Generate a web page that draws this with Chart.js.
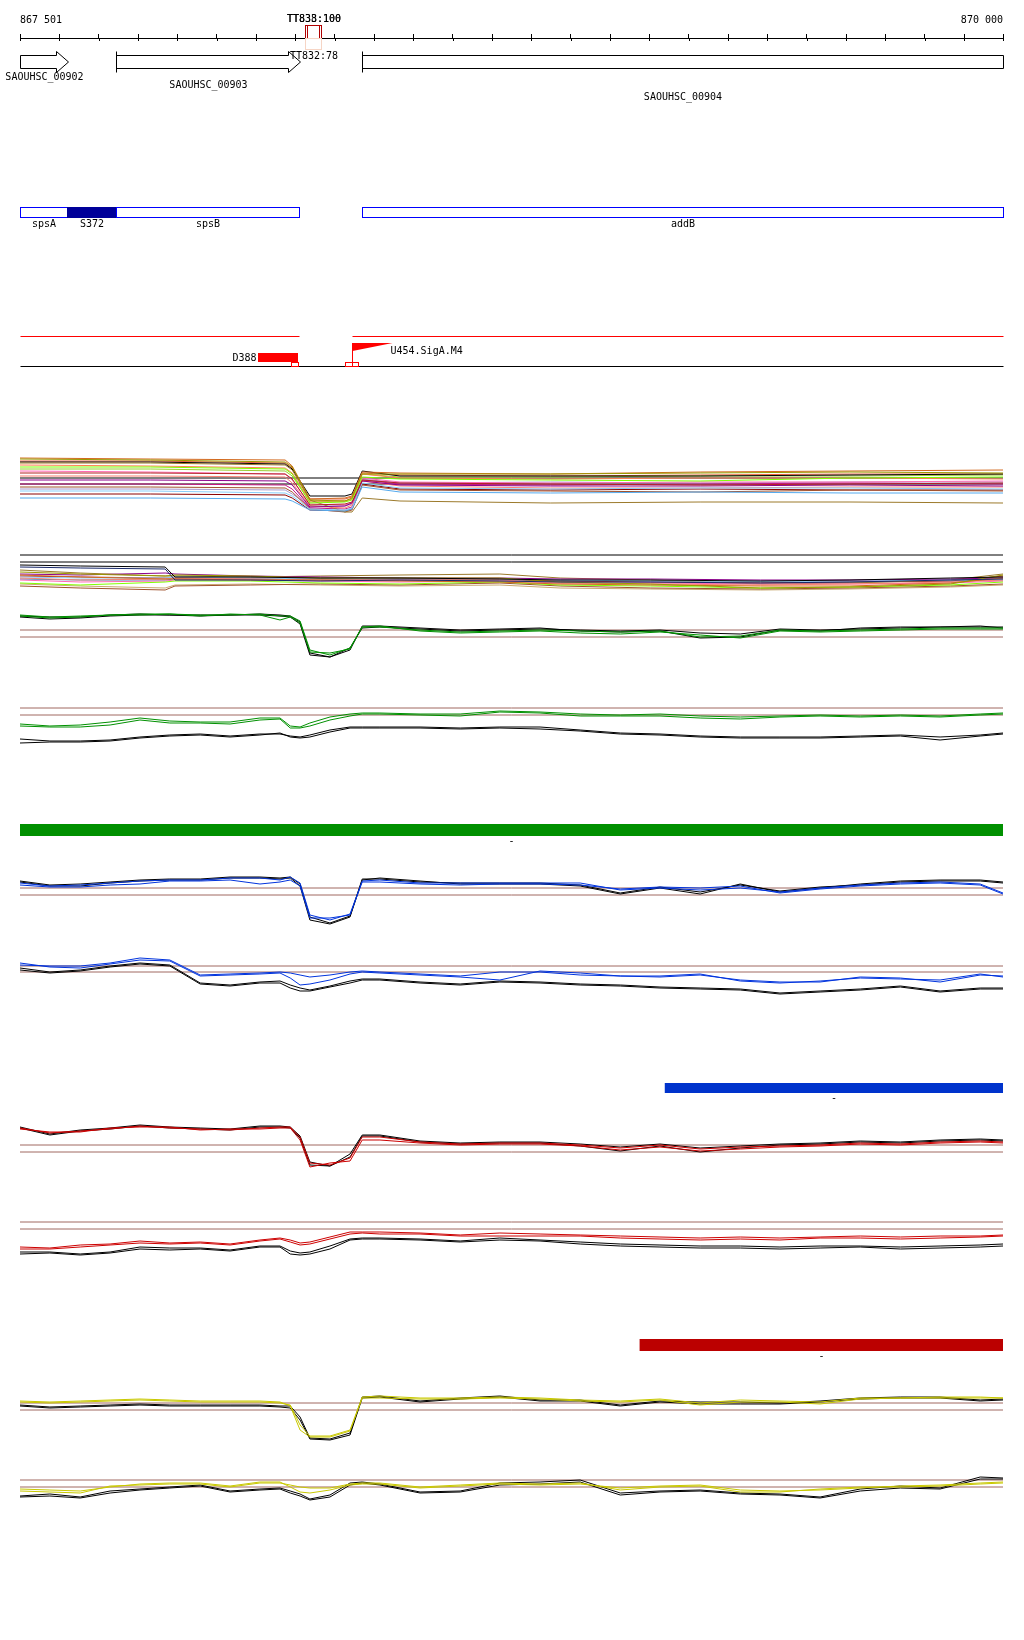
<!DOCTYPE html>
<html lang="en">
<head>
<meta charset="UTF-8">
<title>Expression browser</title>
<script src="https://cdn.jsdelivr.net/npm/chart.js"></script>
<style>
  body { margin: 0; background: #fff; }
  #page { position: relative; width: 1024px; height: 1640px; }
  #page canvas { position: absolute; left: 0; }
</style>
</head>
<body>
<div id="page"></div>
<script>
// genomic window
const xMin = 867501, xMax = 870000, tickStep = 100;

// annotation
const genes = ['SAOUHSC_00902', 'SAOUHSC_00903', 'SAOUHSC_00904'];
const geneStart = [867050, 867745, 868371];
const geneEnd = [867623, 868213, 871600];

const terms = ['TT833:100', 'TT838:100', 'TT832:78'];
const termStart = [868226, 868231, 868226];
const termEnd = [868266, 868261, 868266];
const termStrand = ['+', '+', '-'];

const units = ['spsA', 'S372', 'spsB', 'addB'];
const unitStart = [867440, 867621, 867745, 868371];
const unitEnd = [867621, 867745, 868210, 870600];
const unitShaded = [false, true, false, false];

const strandSegStart = [867440, 868345];
const strandSegEnd = [868210, 870600];

const sites = ['D388'];
const siteStart = [868106];
const siteEnd = [868208];

const tss = ['U454.SigA.M4'];
const tssPos = [868345];

const regionLabels = ['-', '-', '-'];
const regionStart = [867501, 869141, 869077];
const regionEnd = [870000, 870000, 870000];

// probe positions
const posFine = [867501, 867577, 867654, 867730, 867806, 867882, 867959, 868035, 868111, 868162, 868188,
  868213, 868238, 868289, 868340, 868371, 868416, 868518, 868620, 868721, 868823, 868925, 869027, 869128,
  869230, 869332, 869433, 869535, 869637, 869739, 869840, 869942, 870000];
const posAll = [867501, 867832, 868175, 868193, 868238, 868327, 868345, 868371, 868467, 868849, 869230, 869611, 870000];
const posRef = [867501, 867654, 867870, 867895, 868086, 868264, 868467, 868721, 868874, 869103, 869383, 869611, 869866, 870000];

// all conditions, upper overlay
const allColors = ['#9a9a00', '#7fff00', '#d2691e', '#b22222', '#8b008b', '#ff69b4', '#87cefa', '#55aaee', '#fa8072',
  '#9c7a2b', '#c71585', '#a0522d', '#a89ad0', '#000000', '#ff7f50', '#9acd32', '#8b0000', '#e8603c'];
const allProfiles = [
  [6.6, 6.5, 6.3, 5.8, 2.5, 2.4, 2.7, 5.1, 5.1, 5.1, 5.2, 5.3, 5.2],
  [5.8, 5.8, 5.6, 5.1, 2.2, 2.3, 2.5, 4.8, 4.6, 4.5, 4.4, 4.7, 4.8],
  [6.7, 6.6, 6.5, 5.9, 2.6, 2.7, 2.9, 5.3, 5.2, 5.1, 5.3, 5.4, 5.5],
  [5.2, 5.2, 5.1, 4.6, 2.0, 2.1, 2.3, 4.5, 4.2, 4.1, 4.0, 4.1, 4.2],
  [4.5, 4.5, 4.4, 4.0, 1.8, 1.9, 2.2, 4.4, 4.0, 3.9, 3.9, 4.0, 3.9],
  [5.4, 5.3, 5.1, 4.5, 2.1, 2.0, 2.2, 4.7, 4.3, 4.2, 4.3, 4.3, 4.4],
  [3.4, 3.4, 3.2, 2.9, 1.6, 1.5, 1.7, 4.2, 3.7, 3.6, 3.7, 3.7, 3.6],
  [2.7, 2.7, 2.6, 2.4, 1.5, 1.4, 1.6, 3.8, 3.3, 3.2, 3.3, 3.2, 3.2],
  [4.9, 4.9, 4.8, 4.2, 1.9, 1.7, 2.0, 4.4, 3.9, 3.7, 3.7, 3.8, 3.8],
  [6.2, 6.2, 6.0, 5.5, 2.5, 1.3, 1.3, 2.7, 2.4, 2.2, 2.3, 2.3, 2.2],
  [4.1, 4.1, 4.0, 3.6, 1.7, 1.6, 1.8, 4.5, 4.1, 4.0, 4.1, 4.2, 4.1],
  [3.8, 3.8, 3.7, 3.3, 1.6, 1.3, 1.5, 4.0, 3.5, 3.4, 3.3, 3.5, 3.4],
  [3.6, 3.6, 3.5, 3.1, 1.9, 1.9, 2.1, 4.6, 4.2, 4.3, 4.2, 4.3, 4.3],
  [6.3, 6.3, 6.1, 5.6, 2.9, 2.9, 3.1, 5.4, 4.9, 4.9, 4.9, 5.0, 5.1],
  [6.0, 5.9, 5.7, 5.2, 2.4, 2.4, 2.6, 5.1, 4.7, 4.6, 4.7, 4.7, 4.6],
  [5.6, 5.6, 5.4, 4.9, 2.3, 2.4, 2.6, 5.1, 4.8, 4.8, 4.9, 4.9, 5.0],
  [3.1, 3.1, 3.0, 2.7, 1.5, 1.4, 1.6, 4.1, 3.6, 3.5, 3.6, 3.5, 3.5],
  [6.4, 6.4, 6.2, 5.7, 2.6, 2.6, 2.8, 5.2, 5.0, 4.9, 5.0, 5.1, 5.1]
];
const allCut = [4.7, 4.1];

// all conditions, reverse strand overlay
const refColors = ['#000000', '#1a2a6c', '#9a9a00', '#d2691e', '#8b008b', '#7fff00', '#fa8072',
  '#a0522d', '#87cefa', '#ff69b4', '#9c7a2b', '#c8a870', '#b22222', '#4682b4'];
const refProfiles = [
  [5.5, 5.4, 5.3, 4.3, 4.3, 4.2, 4.2, 4.1, 4.0, 4.0, 3.9, 4.0, 4.2, 4.3],
  [5.3, 5.2, 5.1, 4.0, 4.0, 3.9, 4.0, 3.9, 3.8, 3.8, 3.7, 3.8, 4.0, 4.1],
  [4.8, 4.6, 4.4, 4.5, 4.4, 4.2, 4.2, 4.2, 3.8, 3.6, 3.2, 3.3, 3.6, 4.5],
  [4.5, 4.3, 4.1, 4.1, 4.0, 4.0, 3.9, 3.8, 3.6, 3.5, 3.4, 3.4, 3.7, 4.2],
  [4.6, 4.5, 4.7, 4.6, 4.4, 4.3, 4.2, 4.2, 4.1, 4.1, 4.0, 4.0, 4.1, 4.2],
  [3.7, 3.5, 3.8, 3.9, 3.9, 3.7, 3.6, 3.8, 3.5, 3.4, 3.2, 3.3, 3.5, 3.8],
  [4.2, 4.0, 4.1, 4.2, 4.1, 4.0, 4.0, 4.0, 3.7, 3.6, 3.5, 3.6, 3.8, 4.0],
  [3.4, 3.2, 3.0, 3.4, 3.5, 3.6, 3.5, 3.7, 3.4, 3.2, 3.1, 3.2, 3.4, 3.6],
  [4.3, 4.2, 4.2, 4.3, 4.2, 4.1, 4.1, 4.1, 4.0, 3.9, 3.9, 3.9, 4.0, 4.1],
  [4.0, 3.8, 3.9, 4.0, 4.0, 3.9, 3.8, 3.9, 3.7, 3.7, 3.6, 3.6, 3.7, 3.9],
  [5.0, 4.7, 4.4, 4.4, 4.3, 4.4, 4.5, 4.6, 4.2, 4.0, 3.6, 3.7, 4.0, 4.6],
  [3.6, 3.4, 3.2, 3.5, 3.6, 3.5, 3.4, 3.5, 3.2, 3.1, 3.0, 3.1, 3.3, 3.5],
  [4.4, 4.3, 4.2, 4.2, 4.2, 4.1, 4.0, 4.1, 3.9, 3.8, 3.7, 3.8, 3.9, 4.4],
  [4.1, 4.0, 4.0, 4.1, 4.1, 4.0, 4.0, 4.0, 3.9, 3.8, 3.8, 3.8, 3.9, 4.0]
];
const refCut = [6.5, 5.8];

// condition 1 (green)
const g1a = [6.5, 6.3, 6.4, 6.5, 6.6, 6.6, 6.5, 6.5, 6.6, 6.4, 6.4, 5.9, 3.0, 2.5, 3.2, 5.3, 5.3, 5.0, 4.8, 4.9, 5.0, 4.9, 4.8, 4.9, 4.3, 4.4, 5.0, 4.9, 5.0, 5.1, 5.2, 5.2, 5.2];
const g1b = [6.4, 6.2, 6.3, 6.5, 6.5, 6.6, 6.4, 6.6, 6.5, 6.0, 6.3, 5.7, 2.8, 2.7, 3.1, 5.3, 5.4, 4.9, 4.7, 4.8, 4.9, 4.7, 4.6, 4.8, 4.5, 4.2, 4.9, 4.8, 4.9, 5.0, 5.1, 5.1, 5.1];
const g1c = [6.4, 6.3, 6.3, 6.5, 6.6, 6.5, 6.5, 6.5, 6.6, 6.5, 6.4, 5.8, 2.7, 2.3, 3.2, 5.2, 5.3, 5.1, 4.9, 5.0, 5.1, 5.0, 4.9, 5.0, 4.7, 4.6, 5.1, 5.0, 5.1, 5.2, 5.3, 5.3, 5.3];
const g1d = [6.3, 6.1, 6.2, 6.4, 6.5, 6.5, 6.4, 6.5, 6.5, 6.4, 6.3, 5.6, 2.5, 2.3, 3.0, 5.4, 5.4, 5.2, 5.0, 5.1, 5.2, 4.9, 4.8, 4.9, 4.2, 4.3, 5.0, 4.9, 5.2, 5.3, 5.3, 5.4, 5.2];
const g1Cut = [5.0, 4.3];
const g2a = [4.6, 4.4, 4.5, 4.8, 5.2, 4.9, 4.8, 4.8, 5.2, 5.2, 4.4, 4.3, 4.7, 5.3, 5.6, 5.7, 5.7, 5.6, 5.6, 5.9, 5.8, 5.6, 5.5, 5.6, 5.4, 5.3, 5.4, 5.5, 5.4, 5.5, 5.4, 5.6, 5.7];
const g2b = [4.4, 4.3, 4.3, 4.5, 5.0, 4.7, 4.7, 4.6, 5.0, 5.1, 4.2, 4.2, 4.4, 5.0, 5.4, 5.6, 5.6, 5.5, 5.4, 5.8, 5.7, 5.4, 5.4, 5.4, 5.2, 5.1, 5.3, 5.4, 5.3, 5.4, 5.3, 5.5, 5.6];
const g2c = [3.1, 2.9, 2.9, 3.0, 3.3, 3.5, 3.6, 3.4, 3.6, 3.6, 3.4, 3.3, 3.5, 4.0, 4.3, 4.3, 4.3, 4.3, 4.2, 4.3, 4.3, 4.0, 3.7, 3.6, 3.4, 3.3, 3.3, 3.3, 3.4, 3.5, 3.3, 3.5, 3.7];
const g2d = [2.7, 2.8, 2.8, 2.9, 3.2, 3.4, 3.5, 3.3, 3.5, 3.7, 3.3, 3.2, 3.3, 3.8, 4.2, 4.2, 4.2, 4.2, 4.1, 4.2, 4.1, 3.9, 3.6, 3.5, 3.3, 3.2, 3.2, 3.2, 3.3, 3.4, 3.0, 3.4, 3.6];
const g2Cut = [6.2, 5.5];

// condition 2 (blue)
const b1a = [5.7, 5.4, 5.5, 5.7, 5.9, 6.0, 6.0, 6.2, 6.2, 6.0, 6.3, 5.7, 2.5, 2.0, 2.6, 5.9, 6.0, 5.7, 5.7, 5.7, 5.7, 5.7, 5.0, 5.2, 5.0, 5.2, 4.8, 5.2, 5.5, 5.7, 5.8, 5.6, 4.7];
const b1b = [5.5, 5.3, 5.3, 5.5, 5.6, 5.9, 5.9, 6.0, 5.6, 5.8, 6.0, 5.4, 2.2, 2.2, 2.5, 5.8, 5.8, 5.6, 5.5, 5.6, 5.6, 5.5, 5.1, 5.3, 5.2, 5.4, 4.7, 5.1, 5.4, 5.6, 5.7, 5.5, 4.6];
const b1c = [5.9, 5.5, 5.6, 5.8, 6.0, 6.1, 6.1, 6.3, 6.3, 6.2, 6.3, 5.6, 2.3, 1.7, 2.4, 6.1, 6.1, 5.8, 5.7, 5.7, 5.7, 5.5, 4.7, 5.3, 4.8, 5.5, 4.9, 5.3, 5.5, 5.8, 5.9, 5.9, 5.7];
const b1d = [5.8, 5.4, 5.4, 5.7, 5.9, 6.0, 6.0, 6.2, 6.2, 6.1, 6.2, 5.4, 2.0, 1.6, 2.3, 6.0, 6.2, 5.9, 5.6, 5.6, 5.6, 5.4, 4.6, 5.2, 4.6, 5.6, 4.8, 5.2, 5.6, 5.9, 6.0, 6.0, 5.8];
const b1Cut = [5.2, 4.5];
const b2a = [6.0, 5.9, 5.9, 6.2, 6.7, 6.5, 5.0, 5.1, 5.2, 5.3, 5.2, 5.0, 4.8, 5.0, 5.3, 5.4, 5.3, 5.1, 4.9, 5.3, 5.3, 5.0, 4.9, 4.9, 5.1, 4.4, 4.2, 4.4, 4.7, 4.6, 4.5, 5.1, 4.8];
const b2b = [6.2, 5.8, 5.7, 6.1, 6.5, 6.4, 4.9, 5.0, 5.1, 5.2, 4.7, 4.0, 4.1, 4.5, 5.1, 5.3, 5.2, 5.0, 4.8, 4.5, 5.4, 5.2, 4.9, 4.8, 5.0, 4.5, 4.3, 4.3, 4.8, 4.7, 4.3, 5.0, 4.9];
const b2c = [5.7, 5.3, 5.5, 5.9, 6.2, 6.0, 4.2, 4.0, 4.3, 4.4, 4.0, 3.7, 3.5, 3.9, 4.4, 4.6, 4.6, 4.3, 4.1, 4.4, 4.3, 4.1, 4.0, 3.8, 3.7, 3.6, 3.2, 3.4, 3.6, 3.9, 3.4, 3.7, 3.7];
const b2d = [5.5, 5.2, 5.4, 5.8, 6.1, 5.9, 4.1, 3.9, 4.2, 4.2, 3.7, 3.4, 3.4, 3.8, 4.2, 4.5, 4.5, 4.2, 4.0, 4.3, 4.2, 4.0, 3.9, 3.7, 3.6, 3.5, 3.1, 3.3, 3.5, 3.8, 3.3, 3.6, 3.6];
const b2Cut = [5.9, 5.3];

// condition 3 (red)
const r1a = [6.2, 5.7, 5.9, 6.1, 6.4, 6.2, 6.1, 6.0, 6.2, 6.3, 6.3, 5.3, 2.7, 2.5, 3.2, 5.3, 5.3, 4.8, 4.6, 4.7, 4.7, 4.5, 4.2, 4.5, 4.1, 4.3, 4.4, 4.5, 4.7, 4.6, 4.8, 4.9, 4.8];
const r1b = [6.1, 5.8, 5.8, 6.2, 6.3, 6.3, 6.0, 6.1, 6.1, 6.2, 6.2, 5.0, 2.3, 2.7, 2.9, 5.0, 5.0, 4.7, 4.5, 4.6, 4.6, 4.4, 4.0, 4.3, 3.9, 4.1, 4.3, 4.4, 4.6, 4.5, 4.7, 4.8, 4.7];
const r1c = [6.3, 5.6, 6.0, 6.2, 6.5, 6.3, 6.2, 6.1, 6.4, 6.4, 6.3, 5.4, 2.8, 2.4, 3.6, 5.5, 5.5, 4.9, 4.7, 4.8, 4.8, 4.6, 4.3, 4.6, 4.2, 4.4, 4.6, 4.7, 4.9, 4.8, 5.0, 5.1, 5.0];
const r1d = [6.2, 5.5, 5.9, 6.1, 6.4, 6.2, 6.1, 6.0, 6.3, 6.3, 6.2, 5.2, 2.5, 2.4, 3.3, 5.4, 5.4, 4.8, 4.6, 4.7, 4.7, 4.4, 3.9, 4.4, 3.8, 4.2, 4.5, 4.6, 4.8, 4.7, 4.9, 5.0, 4.9];
const r1Cut = [4.5, 3.8];
const r2a = [3.8, 3.7, 4.0, 4.1, 4.4, 4.2, 4.3, 4.1, 4.5, 4.7, 4.5, 4.2, 4.3, 4.8, 5.3, 5.3, 5.3, 5.2, 5.0, 5.2, 5.1, 5.0, 4.9, 4.8, 4.7, 4.8, 4.7, 4.8, 4.9, 4.8, 4.9, 4.9, 5.0];
const r2b = [3.6, 3.6, 3.8, 4.0, 4.2, 4.1, 4.2, 4.0, 4.4, 4.6, 4.3, 4.0, 4.1, 4.6, 5.1, 5.2, 5.1, 5.1, 4.9, 4.9, 4.9, 4.9, 4.7, 4.6, 4.5, 4.6, 4.5, 4.7, 4.7, 4.6, 4.7, 4.8, 4.9];
const r2c = [3.3, 3.3, 3.1, 3.3, 3.8, 3.7, 3.7, 3.5, 3.9, 3.9, 3.4, 3.2, 3.3, 3.9, 4.6, 4.7, 4.7, 4.6, 4.4, 4.7, 4.5, 4.3, 4.1, 4.0, 3.9, 3.9, 3.8, 3.9, 3.9, 3.8, 3.9, 4.0, 4.1];
const r2d = [3.1, 3.2, 3.0, 3.2, 3.6, 3.5, 3.6, 3.4, 3.8, 3.8, 3.1, 3.0, 3.1, 3.6, 4.5, 4.6, 4.6, 4.5, 4.3, 4.5, 4.4, 4.1, 3.9, 3.8, 3.7, 3.7, 3.6, 3.7, 3.8, 3.6, 3.7, 3.8, 3.9];
const r2Cut = [6.3, 5.6];

// condition 4 (yellow)
const y1a = [5.8, 5.7, 5.8, 5.9, 6.0, 5.9, 5.8, 5.8, 5.8, 5.7, 5.5, 3.5, 2.4, 2.4, 3.0, 6.3, 6.4, 6.2, 6.2, 6.3, 6.2, 6.0, 5.9, 6.1, 5.7, 6.0, 5.9, 5.8, 6.2, 6.2, 6.2, 6.2, 6.2];
const y1b = [5.9, 5.8, 5.9, 6.0, 6.1, 6.0, 5.9, 5.9, 5.9, 5.8, 5.4, 3.0, 2.3, 2.3, 2.9, 6.2, 6.2, 6.1, 6.1, 6.2, 6.1, 5.9, 5.8, 6.0, 5.5, 5.8, 5.8, 5.6, 6.1, 6.2, 6.3, 6.3, 6.2];
const y1c = [5.5, 5.3, 5.4, 5.5, 5.6, 5.5, 5.5, 5.5, 5.5, 5.4, 5.4, 4.3, 2.2, 2.1, 2.7, 6.3, 6.4, 5.9, 6.2, 6.4, 6.0, 6.0, 5.5, 5.9, 5.8, 5.8, 5.7, 5.9, 6.2, 6.3, 6.3, 6.0, 6.1];
const y1d = [5.4, 5.2, 5.3, 5.4, 5.5, 5.4, 5.4, 5.4, 5.4, 5.3, 5.2, 4.0, 2.1, 2.0, 2.5, 6.2, 6.3, 5.8, 6.1, 6.3, 5.9, 5.9, 5.4, 5.8, 5.6, 5.6, 5.6, 5.8, 6.1, 6.2, 6.2, 5.9, 6.0];
const y1Cut = [5.7, 5.0];
const y2a = [5.4, 5.3, 5.2, 5.9, 6.0, 6.1, 6.1, 5.8, 6.2, 6.2, 6.0, 5.8, 5.7, 5.7, 6.1, 6.2, 6.2, 5.8, 6.0, 6.2, 6.1, 6.2, 5.5, 5.8, 5.9, 5.3, 5.3, 5.6, 5.8, 5.8, 5.9, 6.1, 6.2];
const y2b = [5.6, 5.5, 5.4, 5.8, 6.1, 6.2, 6.2, 5.9, 6.3, 6.3, 5.8, 5.3, 5.2, 5.5, 6.0, 6.1, 6.1, 5.7, 5.9, 6.1, 6.0, 6.1, 5.7, 5.9, 6.0, 5.5, 5.4, 5.5, 5.7, 5.9, 6.0, 6.2, 6.3];
const y2c = [4.9, 5.1, 4.8, 5.4, 5.6, 5.8, 6.0, 5.4, 5.6, 5.7, 5.4, 5.1, 4.6, 5.0, 6.2, 6.3, 6.1, 5.3, 5.4, 6.2, 6.3, 6.5, 5.2, 5.4, 5.5, 5.2, 5.1, 4.8, 5.6, 5.9, 5.7, 6.8, 6.7];
const y2d = [4.8, 4.9, 4.7, 5.2, 5.5, 5.7, 5.9, 5.3, 5.5, 5.6, 5.2, 4.9, 4.5, 4.8, 6.0, 6.2, 6.0, 5.2, 5.3, 6.0, 6.1, 6.3, 5.0, 5.3, 5.4, 5.1, 5.0, 4.7, 5.4, 5.7, 5.6, 6.6, 6.6];
const y2Cut = [6.5, 5.8];

const GREEN = '#009000', BLUE = '#0033dd', RED = '#cc0000', YELLOW = '#c8c800', BLACK = '#000000', CUT = '#a06860';
const MONO = '"DejaVu Sans Mono", monospace';

Chart.defaults.font.family = MONO;
Chart.defaults.color = '#000';

const page = document.getElementById('page');
function addCanvas(top, height) {
    const c = document.createElement('canvas');
    c.width = 1024; c.height = height;
    c.style.top = top + 'px';
    c.style.width = '1024px'; c.style.height = height + 'px';
    page.appendChild(c);
    return c;
}

function trackOptions() {
    return {
        responsive: false, animation: false, devicePixelRatio: 1, events: [],
        layout: { padding: { left: 20, right: 21, top: 0, bottom: 0 } },
        plugins: { legend: { display: false }, tooltip: { enabled: false } },
        elements: { point: { radius: 0 }, line: { borderWidth: 1, tension: 0 } },
        scales: {
            x: { type: 'linear', min: xMin, max: xMax, display: false },
            y: { min: 0, max: 8, display: false }
        }
    };
}

function lineTrack(top, pos, series, colors, cuts, cutColor) {
    const datasets = series.map((vals, i) => ({
        data: vals.map((v, j) => ({ x: pos[j], y: v })),
        borderColor: colors[i]
    }));
    cuts.forEach(c => datasets.push({
        data: [{ x: xMin, y: c }, { x: xMax, y: c }],
        borderColor: cutColor
    }));
    new Chart(addCanvas(top, 80), { type: 'line', data: { datasets }, options: trackOptions() });
}

const strandLabel = {
    id: 'strandLabel',
    afterDatasetsDraw(chart) {
        const bar = chart.getDatasetMeta(0).data[0];
        const ctx = chart.ctx;
        ctx.save();
        ctx.fillStyle = '#000';
        ctx.font = '10px ' + MONO;
        ctx.textAlign = 'center';
        ctx.textBaseline = 'middle';
        ctx.fillText(chart.data.labels[0], (bar.x + bar.base) / 2, chart.chartArea.bottom + 5);
        ctx.restore();
    }
};

function regionBar(top, h, i, color) {
    const opts = trackOptions();
    opts.indexAxis = 'y';
    opts.layout.padding.bottom = 10;
    opts.scales.y = { display: false };
    new Chart(addCanvas(top, h + 10), {
        type: 'bar',
        data: {
            labels: [regionLabels[i]],
            datasets: [{ data: [[regionStart[i], regionEnd[i]]], backgroundColor: color,
                barPercentage: 1, categoryPercentage: 1 }]
        },
        options: opts,
        plugins: [strandLabel]
    });
}

// gene / operon / promoter annotation drawn on the ruler's scale
const annotPlugin = {
    id: 'annot',
    afterDraw(chart) {
        const ctx = chart.ctx, xs = chart.scales.x, a = chart.chartArea;
        const px = v => Math.round(xs.getPixelForValue(Math.min(Math.max(v, xMin), xMax))) + 0.5;
        ctx.save();
        ctx.lineWidth = 1;
        ctx.font = '10px ' + MONO;
        ctx.textBaseline = 'middle';
        ctx.textAlign = 'center';

        // lower half of ruler ticks
        ctx.strokeStyle = '#000';
        xs.ticks.forEach(t => {
            const x = px(t.value);
            ctx.beginPath(); ctx.moveTo(x, a.top); ctx.lineTo(x, a.top + 3); ctx.stroke();
        });

        // terminators
        terms.forEach((name, i) => {
            const x0 = px(termStart[i]), x1 = px(termEnd[i]);
            const cx = Math.round((x0 + x1) / 2);
            if (termStrand[i] === '+') {
                ctx.strokeStyle = '#b00000';
                ctx.strokeRect(x0, 25.5, x1 - x0, 13);
                ctx.fillStyle = '#000';
                ctx.fillText(name, cx, 19);
            } else {
                ctx.strokeStyle = '#f6d5c5';
                ctx.strokeRect(x0, 38.5, x1 - x0, 11);
                ctx.fillStyle = '#000';
                ctx.fillText(name, cx, 56);
            }
        });

        // genes
        const labelRows = [77, 85, 97];
        ctx.strokeStyle = '#000';
        genes.forEach((name, i) => {
            const x0 = px(geneStart[i]), x1 = px(geneEnd[i]);
            const top = 55.5, bot = 68.5;
            ctx.beginPath();
            if (geneEnd[i] <= xMax) {
                const hx = x1 - 12;
                ctx.moveTo(x0, top); ctx.lineTo(hx, top); ctx.lineTo(hx, 51.5);
                ctx.lineTo(x1, 62); ctx.lineTo(hx, 72.5); ctx.lineTo(hx, bot); ctx.lineTo(x0, bot);
                ctx.closePath();
            } else {
                ctx.rect(x0, top, x1 - x0, bot - top);
            }
            ctx.stroke();
            if (geneStart[i] >= xMin) {
                ctx.beginPath(); ctx.moveTo(x0, 51.5); ctx.lineTo(x0, 72.5); ctx.stroke();
            }
            ctx.fillStyle = '#000';
            ctx.fillText(name, (x0 + x1) / 2, labelRows[i]);
        });

        // transcription units
        units.forEach((name, i) => {
            const x0 = px(unitStart[i]), x1 = px(unitEnd[i]);
            if (unitShaded[i]) {
                ctx.fillStyle = '#000099';
                ctx.fillRect(x0, 207.5, x1 - x0, 10);
            }
            ctx.strokeStyle = unitShaded[i] ? '#000099' : '#0000ff';
            ctx.strokeRect(x0, 207.5, x1 - x0, 10);
            ctx.fillStyle = '#000';
            ctx.fillText(name, (x0 + x1) / 2, 224);
        });

        // strand lines
        ctx.strokeStyle = '#ff0000';
        strandSegStart.forEach((s, i) => {
            ctx.beginPath(); ctx.moveTo(px(s), 336.5); ctx.lineTo(px(strandSegEnd[i]), 336.5); ctx.stroke();
        });
        ctx.strokeStyle = '#000';
        ctx.beginPath(); ctx.moveTo(px(xMin), 366.5); ctx.lineTo(px(xMax), 366.5); ctx.stroke();

        // sigma sites
        sites.forEach((name, i) => {
            const x0 = px(siteStart[i]), x1 = px(siteEnd[i]);
            ctx.fillStyle = '#ff0000';
            ctx.fillRect(x0 - 0.5, 353, x1 - x0, 9);
            ctx.strokeStyle = '#ff0000';
            ctx.strokeRect(x1 - 7, 362.5, 7, 4);
            ctx.fillStyle = '#000';
            ctx.textAlign = 'right';
            ctx.fillText(name, x0 - 2, 358);
            ctx.textAlign = 'center';
        });

        // transcription start sites
        tss.forEach((name, i) => {
            const x = px(tssPos[i]);
            ctx.strokeStyle = '#ff0000';
            ctx.fillStyle = '#ff0000';
            ctx.beginPath(); ctx.moveTo(x, 343); ctx.lineTo(x, 366); ctx.stroke();
            ctx.beginPath(); ctx.moveTo(x, 343); ctx.lineTo(x + 40, 343); ctx.lineTo(x, 351); ctx.closePath(); ctx.fill();
            ctx.strokeRect(x - 7, 362.5, 13, 4);
            ctx.fillStyle = '#000';
            ctx.textAlign = 'left';
            ctx.fillText(name, x + 38, 351);
            ctx.textAlign = 'center';
        });
        ctx.restore();
    }
};

const fmt = v => String(v).replace(/\B(?=(\d{3})+(?!\d))/g, ' ');

new Chart(addCanvas(0, 372), {
    type: 'line',
    data: { datasets: [] },
    options: {
        responsive: false, animation: false, devicePixelRatio: 1, events: [],
        layout: { padding: { left: 20, right: 21, top: 6, bottom: 0 } },
        plugins: { legend: { display: false }, tooltip: { enabled: false } },
        scales: {
            x: {
                type: 'linear', position: 'top', min: xMin, max: xMax,
                afterBuildTicks: axis => {
                    const t = [];
                    for (let v = xMin; v < xMax; v += tickStep) t.push({ value: v });
                    t.push({ value: xMax });
                    axis.ticks = t;
                },
                grid: { drawOnChartArea: false, drawTicks: true, tickLength: 4, color: '#000' },
                border: { display: true, color: '#000' },
                ticks: {
                    autoSkip: false, maxRotation: 0, padding: 8, align: 'inner',
                    font: { family: MONO, size: 10 }, color: '#000',
                    callback: (v, i, arr) => (i === 0 || i === arr.length - 1) ? fmt(v) : ''
                }
            },
            y: { min: 0, max: 1, display: false }
        }
    },
    plugins: [annotPlugin]
});

lineTrack(445, posAll, allProfiles, allColors, allCut, BLACK);
lineTrack(540, posRef, refProfiles, refColors, refCut, BLACK);
lineTrack(600, posFine, [g1a, g1b, g1c, g1d], [GREEN, GREEN, BLACK, BLACK], g1Cut, CUT);
lineTrack(690, posFine, [g2a, g2b, g2c, g2d], [GREEN, GREEN, BLACK, BLACK], g2Cut, CUT);
regionBar(824, 12, 0, '#009000');
lineTrack(860, posFine, [b1a, b1b, b1c, b1d], [BLUE, BLUE, BLACK, BLACK], b1Cut, CUT);
lineTrack(945, posFine, [b2a, b2b, b2c, b2d], [BLUE, BLUE, BLACK, BLACK], b2Cut, CUT);
regionBar(1083, 10, 1, '#0033cc');
lineTrack(1110, posFine, [r1a, r1b, r1c, r1d], [RED, RED, BLACK, BLACK], r1Cut, CUT);
lineTrack(1205, posFine, [r2a, r2b, r2c, r2d], [RED, RED, BLACK, BLACK], r2Cut, CUT);
regionBar(1339, 12, 2, '#bb0000');
lineTrack(1380, posFine, [y1a, y1b, y1c, y1d], [YELLOW, YELLOW, BLACK, BLACK], y1Cut, CUT);
lineTrack(1465, posFine, [y2a, y2b, y2c, y2d], [YELLOW, YELLOW, BLACK, BLACK], y2Cut, CUT);
</script>
</body>
</html>
